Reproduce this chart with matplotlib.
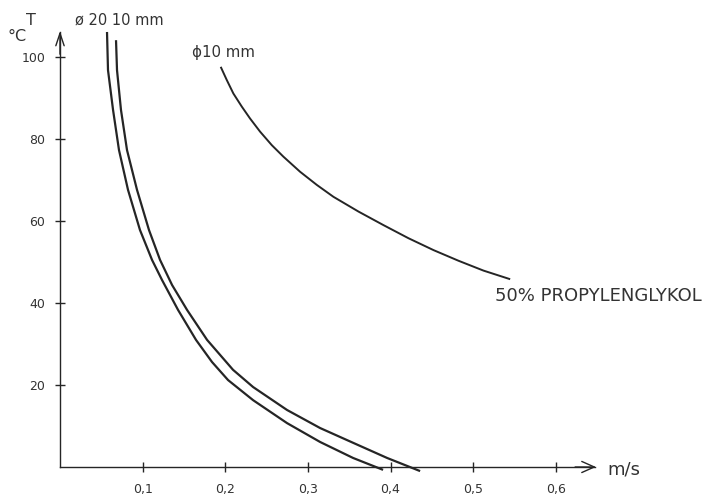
import matplotlib
matplotlib.use("Agg")
import matplotlib.pyplot as plt
from matplotlib import font_manager

# Data (velocity m/s vs temperature °C)
d20_v = [0.0569, 0.0581, 0.0642, 0.0714, 0.0823, 0.0968, 0.1114, 0.1235, 0.1429,
         0.1646, 0.1840, 0.2034, 0.2337, 0.2748, 0.3148, 0.3547, 0.3910]
d20_T = [106.1, 96.8, 87.1, 77.3, 67.6, 57.8, 50.5, 45.6, 38.3,
         31.0, 25.6, 21.2, 16.3, 10.7, 6.1, 2.2, -0.7]

d10_v = [0.0678, 0.0690, 0.0738, 0.0811, 0.0932, 0.1077, 0.1211, 0.1356, 0.1538,
         0.1780, 0.2094, 0.2337, 0.2748, 0.3148, 0.3547, 0.3959, 0.4358]
d10_T = [104.1, 96.8, 87.1, 77.3, 67.6, 57.8, 50.5, 44.4, 38.3,
         31.0, 23.7, 19.5, 13.9, 9.5, 5.9, 2.2, -1.0]

pg_v = [0.1945, 0.2018, 0.2098, 0.2200, 0.2300, 0.2421, 0.2563, 0.2703, 0.2906,
        0.3108, 0.3309, 0.3612, 0.3914, 0.4217, 0.4520, 0.4823, 0.5125, 0.5448]
pg_T = [97.6, 94.4, 91.1, 87.9, 85.0, 81.8, 78.5, 75.7, 72.0,
        68.8, 65.9, 62.3, 59.0, 55.8, 52.9, 50.3, 47.9, 45.8]

x_ticks = [0.1, 0.2, 0.3, 0.4, 0.5, 0.6]
x_labels = ["0,1", "0,2", "0,3", "0,4", "0,5", "0,6"]
y_ticks = [20, 40, 60, 80, 100]
y_labels = ["20", "40", "60", "80", "100"]

def fp(size):
    return font_manager.FontProperties(family="DejaVu Sans", size=size)

ink = "#252525"
txt = "#333333"

fig = plt.figure(figsize=(7.07, 4.97), dpi=100)
ax = fig.add_axes([0, 0, 1, 1])
ax.set_xlim(-0.0726, 0.783)
ax.set_ylim(-7.32, 113.9)
for s in ["top", "right"]:
    ax.spines[s].set_visible(False)
ax.spines["left"].set_position(("data", 0))
ax.spines["bottom"].set_position(("data", 0))
ax.spines["left"].set_bounds(0, 106.0)
ax.spines["bottom"].set_bounds(0, 0.648)
for s in ["left", "bottom"]:
    ax.spines[s].set_color(ink)
    ax.spines[s].set_linewidth(1.0)

ax.set_xticks(x_ticks)
ax.set_yticks(y_ticks)
ax.set_xticklabels(x_labels, fontproperties=fp(9))
ax.set_yticklabels(y_labels, fontproperties=fp(9))
ax.tick_params(axis="both", direction="inout", length=7, width=1.0, color=ink,
               labelcolor=txt)
ax.tick_params(axis="x", pad=8)
ax.tick_params(axis="y", pad=7)

# arrowheads
ax.annotate("", xy=(0.652, 0), xytext=(0.62, 0),
            arrowprops=dict(arrowstyle="->,head_length=0.9,head_width=0.4", color=ink, lw=1.0))
ax.annotate("", xy=(0, 107.0), xytext=(0, 100),
            arrowprops=dict(arrowstyle="->,head_length=0.9,head_width=0.3", color=ink, lw=1.0))

ax.plot(d20_v, d20_T, color=ink, lw=1.6, solid_capstyle="butt", solid_joinstyle="round")
ax.plot(d10_v, d10_T, color=ink, lw=1.6, solid_capstyle="butt", solid_joinstyle="round")
ax.plot(pg_v, pg_T, color=ink, lw=1.4, solid_capstyle="butt", solid_joinstyle="round")

ax.text(-0.035, 108.8, "T", fontproperties=fp(11.5), color=txt, ha="center", va="center")
ax.text(-0.052, 104.9, "°C", fontproperties=fp(11.5), color=txt, ha="center", va="center")
ax.text(0.018, 109.0, "ø 20 10 mm", fontproperties=fp(10.5), color=txt, ha="left", va="center")
ax.text(0.160, 101.0, "ϕ10 mm", fontproperties=fp(10.8), color=txt, ha="left", va="center")
ax.text(0.527, 41.7, "50% PROPYLENGLYKOL", fontproperties=fp(13), color=txt, ha="left", va="center")
ax.text(0.663, -0.5, "m/s", fontproperties=fp(13), color=txt, ha="left", va="center")

fig.savefig("out.png", dpi=100)
